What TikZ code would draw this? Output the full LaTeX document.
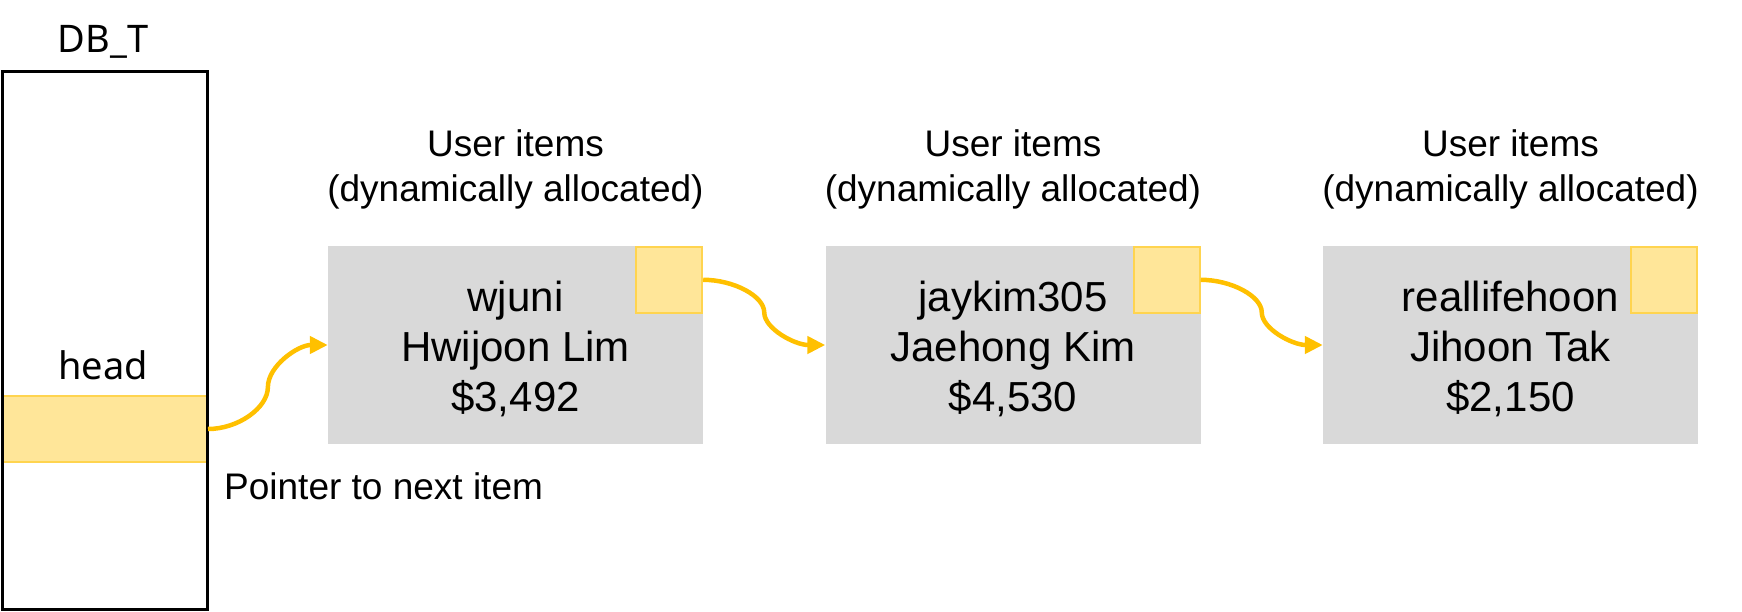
\documentclass[tikz,border=0pt]{standalone}
\usepackage{fontspec}
\setmainfont{Liberation Sans}
\newfontfamily\codefont{Noto Sans}
\usetikzlibrary{calc,arrows.meta}
\definecolor{itemgray}{HTML}{D9D9D9}
\definecolor{ptrfill}{HTML}{FFE699}
\definecolor{ptrline}{HTML}{FFD44F}
\definecolor{arrowgold}{HTML}{FFC000}
\newcommand{\topstrutx}{\rule{0pt}{39pt}}
\tikzset{
  elbowcurve/.style={to path={
    let \p1=(\tikztostart), \p2=(\tikztotarget) in
    .. controls ({0.75*\x1+0.25*\x2},\y1) and ({0.5*\x1+0.5*\x2},{0.75*\y1+0.25*\y2}) ..
    ({0.5*\x1+0.5*\x2},{0.5*\y1+0.5*\y2})
    .. controls ({0.5*\x1+0.5*\x2},{0.25*\y1+0.75*\y2}) and ({0.25*\x1+0.75*\x2},\y2) ..
    (\tikztotarget)}},
  ptrarrow/.style={draw=arrowgold, line width=4.5pt, -{Triangle[length=18pt,width=17pt]}},
  itembox/.style={rectangle, fill=itemgray, minimum width=375pt, minimum height=198pt,
    inner sep=0pt, align=center, font=\fontsize{42}{50}\selectfont},
  ptrsq/.style={rectangle, fill=ptrfill, draw=ptrline, line width=2pt,
    minimum width=66pt, minimum height=66pt, inner sep=0pt},
  lbl/.style={align=center, font=\fontsize{37}{45}\selectfont, inner sep=0pt},
  codelbl/.style={font=\codefont\fontsize{38}{45}\selectfont, inner sep=0pt},
}
\begin{document}
\begin{tikzpicture}[x=1pt,y=-1pt]
\useasboundingbox (0,0) rectangle (1742,611);
% DB_T structure
\node[rectangle, fill=ptrfill, draw=ptrline, line width=2pt, minimum width=205pt,
  minimum height=66pt, inner sep=0pt] (band) at (104.5,429) {};
\node[rectangle, draw=black, line width=3pt, minimum width=205pt, minimum height=538pt,
  inner sep=0pt] (db) at (104.5,340) {};
\node[codelbl, anchor=base] (dbt) at (103,52) {DB\_T};
\node[codelbl, anchor=base] (head) at (103,379) {head};
\node[lbl, anchor=base west] (ptrtxt) at (224,499) {Pointer to next item};
% items
\node[itembox] (b1) at (515.5,345) {\topstrutx wjuni\\Hwijoon Lim\\\$3,492};
\node[itembox] (b2) at (1013,345) {\topstrutx jaykim305\\Jaehong Kim\\\$4,530};
\node[itembox] (b3) at (1510.5,345) {\topstrutx reallifehoon\\Jihoon Tak\\\$2,150};
\node[ptrsq, anchor=north east] (s1) at (b1.north east) {};
\node[ptrsq, anchor=north east] (s2) at (b2.north east) {};
\node[ptrsq, anchor=north east] (s3) at (b3.north east) {};
\node[lbl] (l1) at (515.5,169) {User items\\(dynamically allocated)};
\node[lbl] (l2) at (1013,169) {User items\\(dynamically allocated)};
\node[lbl] (l3) at (1510.5,169) {User items\\(dynamically allocated)};
% pointers
\draw[ptrarrow] (band.east) to[elbowcurve] (b1.west);
\draw[ptrarrow] (s1.east) to[elbowcurve] (b2.west);
\draw[ptrarrow] (s2.east) to[elbowcurve] (b3.west);
\end{tikzpicture}
\end{document}
